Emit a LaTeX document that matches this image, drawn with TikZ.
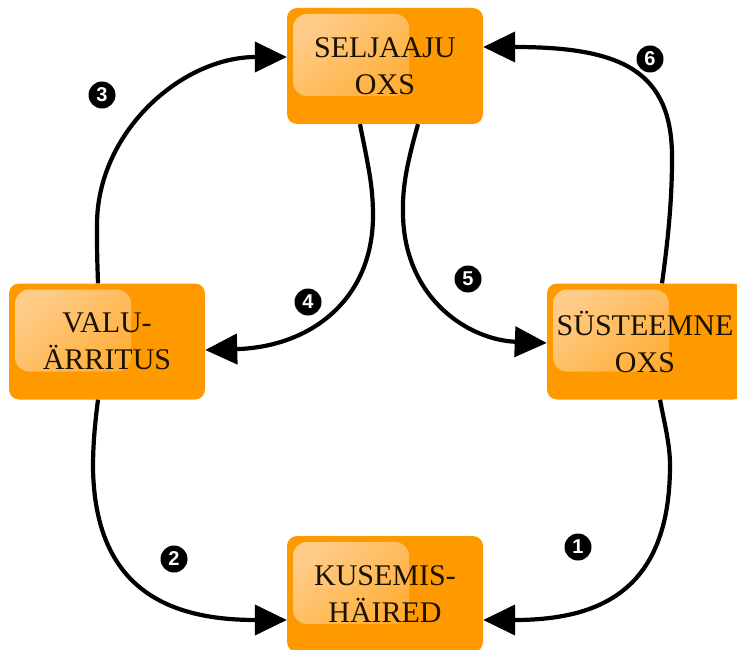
\documentclass[tikz,border=0pt]{standalone}
\usepackage{fontspec}
\setmainfont{Liberation Serif}
\newfontfamily\numfont{Liberation Sans}
\usetikzlibrary{arrows.meta}
\definecolor{boxorange}{HTML}{FF9900}
\definecolor{hlA}{HTML}{FFCB88}
\definecolor{hlB}{HTML}{FF9F0C}
\definecolor{ink}{HTML}{1A1200}
\tikzset{
  box/.style={rectangle, rounded corners=10pt, fill=boxorange, minimum width=196pt, minimum height=116pt,
    inner sep=0pt, align=center, text=ink, font=\fontsize{30}{37}\selectfont,
    path picture={\shade[rounded corners=14pt, top color=hlA, bottom color=hlB, shading angle=40]
      ([shift={(6pt,-6pt)}]path picture bounding box.north west) rectangle ++(116pt,-82pt);}},
  num/.style={circle, fill=black, minimum size=27pt, inner sep=0pt, text=white,
    font=\numfont\bfseries\fontsize{20}{20}\selectfont},
  conn/.style={line width=4.2pt, -{Triangle[length=32pt,width=30pt]}},
}
\begin{document}
\begin{tikzpicture}[x=1pt,y=-1pt]
\fill[white] (0,0) rectangle (737,650);
\useasboundingbox (0,0) rectangle (737,650);
\node[box] (top) at (385,66) {SELJAAJU\\OXS};
\node[box] (left) at (107,341.5) {VALU-\\ÄRRITUS};
\node[box] (right) at (645,341.5) {SÜSTEEMNE\\OXS};
\node[box] (bottom) at (385,594) {KUSEMIS-\\HÄIRED};

% 3
\draw[conn] ([xshift=-9pt]left.north) .. controls +(-1,-30) and +(0,25) .. ++(-1,-58.5)
  .. controls +(0,-93) and +(-105,0) .. ([yshift=9pt]top.west);
% 6
\draw[conn] ([xshift=17pt]right.north) .. controls +(6,-43) and +(0,40) .. ++(10,-123.5)
  .. controls +(1,-90) and +(137,0) .. ([yshift=19pt]top.east);
% 4
\draw[conn] ([xshift=-25pt]top.south) .. controls +(8,41) and +(0,-30) .. ++(13,91)
  .. controls +(0,85) and +(105,-3) .. ([yshift=-8.5pt]left.east);
% 5
\draw[conn] ([xshift=33pt]top.south) .. controls +(-10,36) and +(-1,-30) .. ++(-15,91)
  .. controls +(2,85) and +(-77,-3) .. ([yshift=-1.5pt]right.west);
% 2
\draw[conn] ([xshift=-9pt]left.south) .. controls +(-4,31) and +(0,-18) .. ++(-5,68.5)
  .. controls +(2,122) and +(-117,0) .. ([yshift=-26pt]bottom.west);
% 1
\draw[conn] ([xshift=15pt]right.south) .. controls +(5,26) and +(0,-20) .. ++(10,65.5)
  .. controls +(0,125) and +(117,0) .. ([yshift=-26pt]bottom.east);

\node[num] (n3) at (102,95) {3};
\node[num] (n6) at (650,59) {6};
\node[num] (n4) at (308,302) {4};
\node[num] (n5) at (468,279) {5};
\node[num] (n2) at (174,559) {2};
\node[num] (n1) at (578,547) {1};
\end{tikzpicture}
\end{document}
